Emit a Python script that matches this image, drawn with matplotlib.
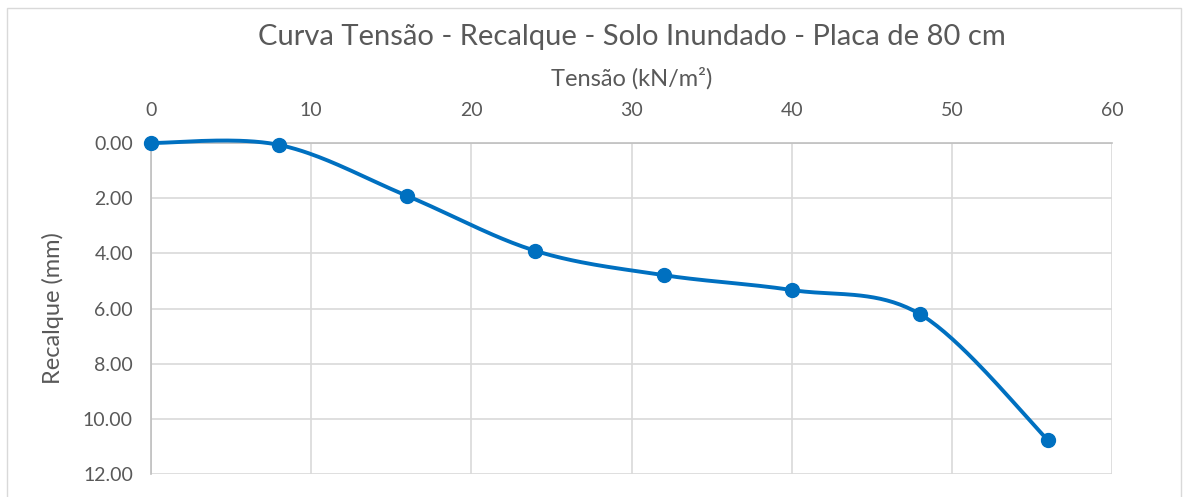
import numpy as np
import matplotlib.pyplot as plt
from matplotlib.patches import Rectangle

# Dados
tensao = [0, 8, 16, 24, 32, 40, 48, 56]
recalque = [0.00, 0.07, 1.92, 3.91, 4.79, 5.33, 6.20, 10.77]
x_ticks = [0, 10, 20, 30, 40, 50, 60]
y_ticks = [0, 2, 4, 6, 8, 10, 12]


def smooth_curve(x, y, n=40):
    # Bezier cubico no estilo "linha suavizada" do Excel
    p = np.column_stack([x, y]).astype(float)
    pts = [p[0]]
    for i in range(len(p) - 1):
        p0 = p[i - 1] if i > 0 else p[i]
        p3 = p[i + 2] if i + 2 < len(p) else p[i + 1]
        c1 = p[i] + (p[i + 1] - p0) / 6
        c2 = p[i + 1] - (p3 - p[i]) / 6
        t = np.linspace(0, 1, n)[1:, None]
        seg = ((1 - t) ** 3 * p[i] + 3 * (1 - t) ** 2 * t * c1
               + 3 * (1 - t) * t ** 2 * c2 + t ** 3 * p[i + 1])
        pts.extend(seg)
    pts = np.array(pts)
    return pts[:, 0], pts[:, 1]


plt.rcParams['font.family'] = ['Lato', 'DejaVu Sans']
grey = '#595959'
blue = '#0070C0'

fig = plt.figure(figsize=(11.88, 4.97), dpi=100)
ax = fig.add_axes([151 / 1188, 1 - 474 / 497, (1112 - 151) / 1188, (474 - 143) / 497])

# borda do grafico
fig.patches.append(Rectangle((7 / 1188, -0.05), 1174 / 1188, 1 - 8 / 497 + 0.05,
                             transform=fig.transFigure, fill=False,
                             edgecolor='#d9d9d9', linewidth=1))

xs, ys = smooth_curve(tensao, recalque)
ax.plot(xs, ys, color=blue, linewidth=2.8, solid_capstyle='round', zorder=3, clip_on=False)
ax.plot(tensao, recalque, 'o', color=blue, markersize=10, zorder=4, clip_on=False)

ax.set_xlim(0, 60)
ax.set_ylim(12, 0)
ax.set_xticks(x_ticks)
ax.set_yticks(y_ticks)
ax.set_yticklabels([f'{v:.2f}' for v in y_ticks])
ax.xaxis.tick_top()
ax.xaxis.set_label_position('top')
ax.tick_params(length=0, labelsize=14, colors=grey)
ax.tick_params(axis='x', pad=17)
ax.tick_params(axis='y', pad=13)

ax.grid(True, color='#d9d9d9', linewidth=1.2)
ax.set_axisbelow(True)
for s in ['right', 'bottom']:
    ax.spines[s].set_visible(False)
ax.spines['left'].set_color('#bfbfbf')
ax.spines['top'].set_color('#bfbfbf')
ax.spines['left'].set_linewidth(1.2)
ax.spines['top'].set_linewidth(1.2)

ax.set_xlabel('Tensão (kN/m²)', fontsize=17, color=grey, labelpad=12)
ax.set_ylabel('Recalque (mm)', fontsize=17, color=grey, labelpad=14)

fig.text(632 / 1188, 1 - 37 / 497, 'Curva Tensão - Recalque - Solo Inundado - Placa de 80 cm',
         ha='center', va='center', fontsize=21, color=grey)

fig.savefig('out.png', dpi=100)
